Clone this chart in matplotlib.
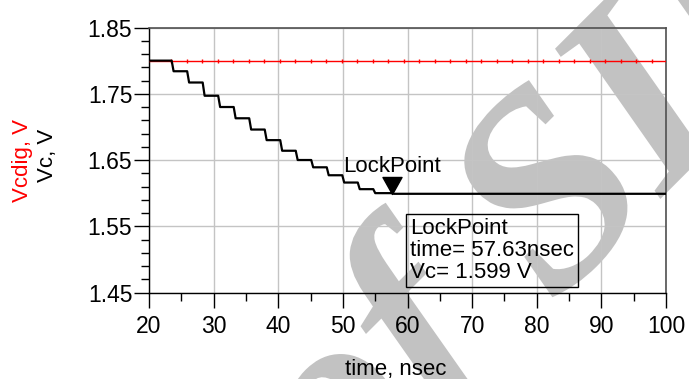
import numpy as np
import matplotlib.pyplot as plt
from matplotlib.path import Path
from matplotlib.patches import PathPatch
from matplotlib.textpath import TextPath
from matplotlib.font_manager import FontProperties
from matplotlib.transforms import Affine2D, IdentityTransform
from matplotlib.ticker import MultipleLocator, FormatStrFormatter

plt.rcParams['font.family'] = ['Liberation Sans', 'DejaVu Sans']

# Vc staircase: level held between consecutive edge times (nsec)
vc_edges = [20.0, 23.5, 25.9, 28.3, 30.7, 33.1, 35.5, 37.9, 40.3, 42.7,
            45.1, 47.5, 49.9, 52.3, 54.7, 57.6, 100.0]
vc_levels = [1.800, 1.784, 1.767, 1.747, 1.730, 1.713, 1.696, 1.680,
             1.664, 1.650, 1.639, 1.627, 1.616, 1.606, 1.600, 1.599]

# Vcdig stays at 1.8 V with tiny clock glitches
vcdig_time = [20.0, 100.0]
vcdig_level = [1.80, 1.80]
glitch_times = [23.4, 25.8, 28.2, 30.6, 33.0, 35.4, 37.8, 40.2, 42.6, 45.0,
                47.4, 49.8, 52.2, 54.6, 57.0, 59.4, 61.8, 64.2, 66.6, 69.0,
                71.4, 73.8, 76.2, 78.6, 81.0, 83.4, 85.8, 88.2, 90.6, 93.0,
                95.4, 97.8]

lock_time = 57.63
lock_vc = 1.599

watermark = 'of SII'

# build staircase with slightly sloped edges
ramp = 0.3
xs, ys = [], []
for i, lvl in enumerate(vc_levels):
    start = vc_edges[i] + (ramp if i > 0 else 0)
    xs += [start, vc_edges[i + 1]]
    ys += [lvl, lvl]

fig = plt.figure(figsize=(6.89, 3.79), dpi=100)
ax = fig.add_axes([0.2163, 0.2282, 0.7504, 0.6992])

# grey journal watermark across the plot (pixel coords)
wm_font = FontProperties(family='Liberation Serif', style='italic', weight='bold')
wm_path = TextPath((0, 0), watermark, size=276, prop=wm_font)
s_ext = TextPath((0, 0), 'S', size=276, prop=wm_font).get_extents()
pre_ext = TextPath((0, 0), watermark[:4], size=276, prop=wm_font).get_extents()
s_cx = pre_ext.x1 - s_ext.width / 2
s_cy = s_ext.y0 + s_ext.height / 2
wm_tr = Affine2D().translate(-s_cx, -s_cy).rotate_deg(45).translate(542, 379 - 190)
ax.add_patch(PathPatch(wm_tr.transform_path(wm_path), transform=IdentityTransform(),
                       fc='#c2c2c2', ec='none', zorder=0.4, clip_on=False))

ax.plot(vcdig_time, vcdig_level, color='red', lw=1.0, zorder=3)
ax.plot(glitch_times, [1.80] * len(glitch_times), ls='none', marker='|',
        color='red', ms=2.5, mew=1.0, zorder=3)
ax.plot(xs, ys, color='black', lw=1.6, zorder=4)

tri = Path([(-0.56, 1.0), (0.56, 1.0), (0.0, 0.0), (-0.56, 1.0)],
           [Path.MOVETO, Path.LINETO, Path.LINETO, Path.CLOSEPOLY])
ax.plot([lock_time], [lock_vc], ls='none', marker=tri, ms=24.5,
        color='black', zorder=5)
ax.annotate('LockPoint', (lock_time, lock_vc), xytext=(0, 15.5),
            textcoords='offset points', ha='center', va='baseline',
            fontsize=16)

ax.text(0.505, 0.283, 'LockPoint\ntime= %.2fnsec\nVc= %.3f V' % (lock_time, lock_vc),
        transform=ax.transAxes, ha='left', va='top', fontsize=16,
        linespacing=1.07, zorder=6,
        bbox=dict(boxstyle='square,pad=0.17', fc='none', ec='black', lw=1.0))

ax.set_xlim(20, 100)
ax.set_ylim(1.45, 1.85)
ax.xaxis.set_major_locator(MultipleLocator(10))
ax.xaxis.set_minor_locator(MultipleLocator(5))
ax.yaxis.set_major_locator(MultipleLocator(0.1, offset=0.05))
ax.yaxis.set_minor_locator(MultipleLocator(0.02, offset=0.01))
ax.yaxis.set_major_formatter(FormatStrFormatter('%.2f'))
ax.grid(True, which='major', color='#c4c4c4', lw=1.0)
ax.set_axisbelow(True)

ax.tick_params(which='major', length=11, width=1, direction='out',
               labelsize=16.5, pad=1)
ax.tick_params(which='minor', length=5.5, width=1, direction='out')
ax.tick_params(axis='x', which='major', pad=5)

for side in ['top', 'right']:
    ax.spines[side].set_color('#505050')
    ax.spines[side].set_linewidth(1.2)
for side in ['left', 'bottom']:
    ax.spines[side].set_linewidth(1.0)

ax.set_xlabel('time, nsec', fontsize=16)
ax.xaxis.set_label_coords(0.477, -0.311)
ax.xaxis.label.set_va('baseline')

fig.text(22.5 / 689, 1 - 161 / 379, 'Vcdig, V', color='red', rotation=90,
         ha='center', va='center', fontsize=16)
fig.text(48 / 689, 1 - 155 / 379, 'Vc, V', color='black', rotation=90,
         ha='center', va='center', fontsize=16)

fig.savefig('out.png', dpi=100)
